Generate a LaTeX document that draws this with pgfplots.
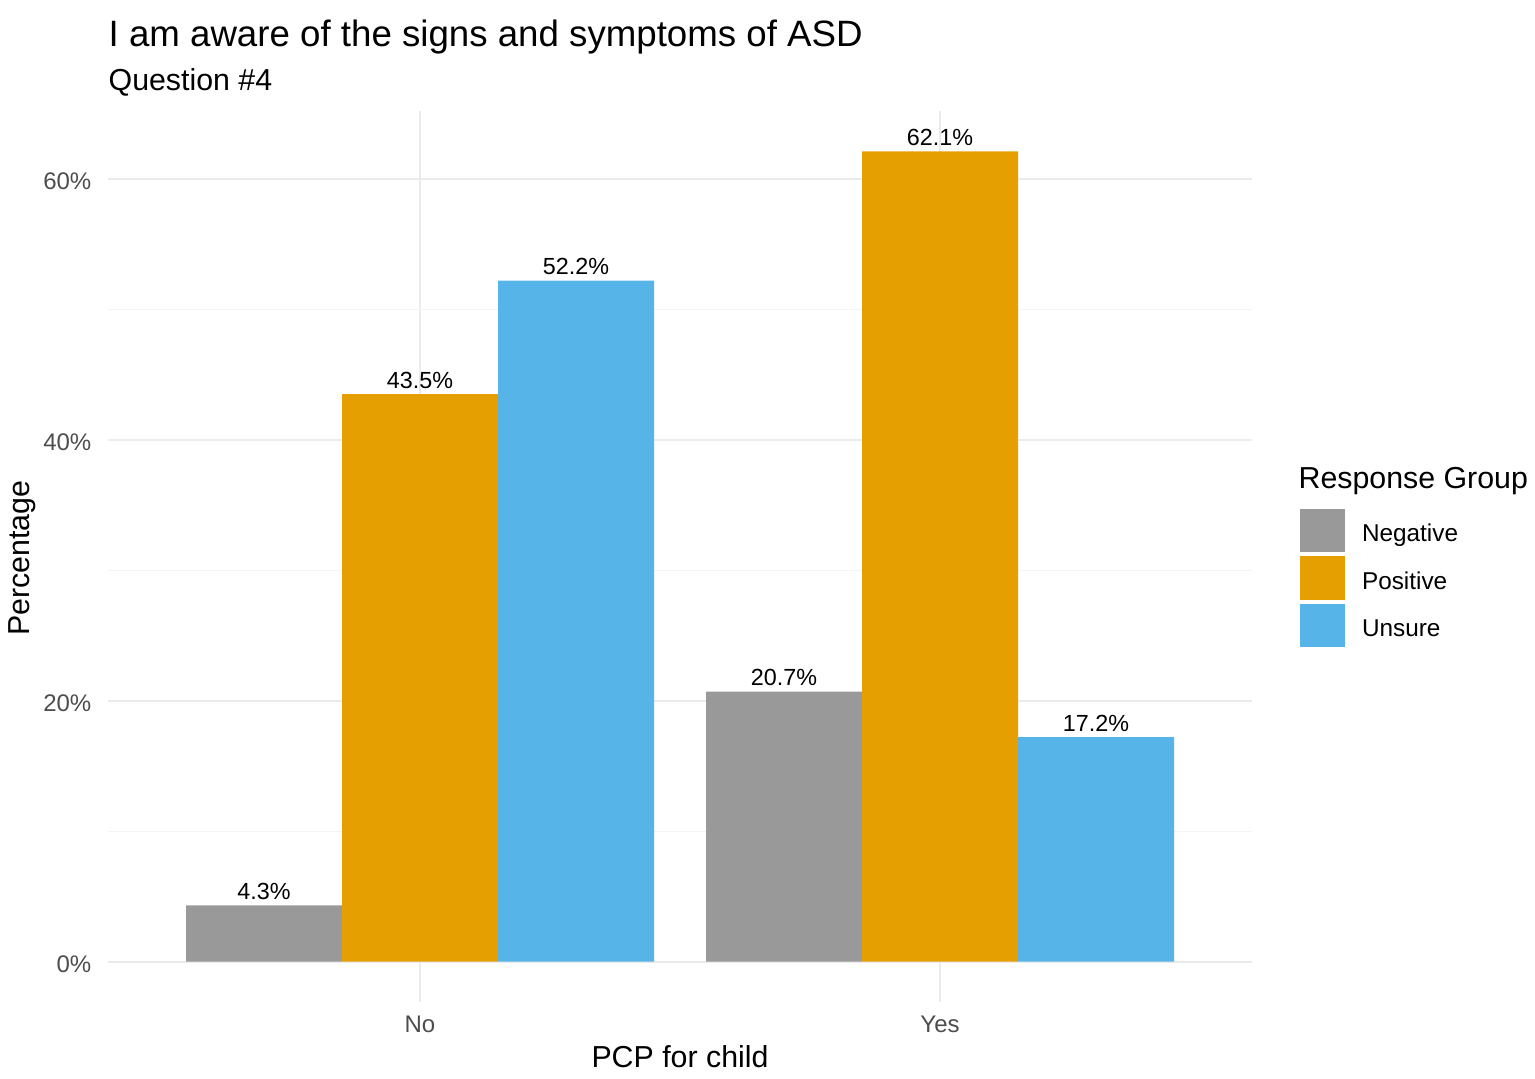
\documentclass[border=0pt]{standalone}
\usepackage{pgfplots}
\pgfplotsset{compat=1.18}
\usepackage{fontspec}
\setmainfont{Liberation Sans}
\definecolor{cneg}{HTML}{999999}
\definecolor{cpos}{HTML}{E69F00}
\definecolor{cuns}{HTML}{56B4E9}
\definecolor{gridmaj}{HTML}{EBEBEB}
\definecolor{gridmin}{HTML}{F4F4F4}
\definecolor{ticktext}{HTML}{4D4D4D}
\begin{document}
\begin{tikzpicture}
\begin{axis}[
  scale only axis,
  width=343.2pt, height=267.3pt,
  xmin=-0.6, xmax=1.6,
  ymin=-3.1, ymax=65.2,
  axis line style={draw=none},
  tick style={draw=none},
  xtick={0,1}, xticklabels={No,Yes},
  ytick={0,20,40,60},
  minor ytick={10,30,50},
  yticklabel={\pgfmathprintnumber{\tick}\%},
  /pgf/number format/assume math mode=true,
  ymajorgrids, xmajorgrids, yminorgrids,
  major grid style={draw=gridmaj, line width=0.6pt},
  minor grid style={draw=gridmin, line width=0.35pt},
  ticklabel style={font=\fontsize{7.2pt}{8pt}\selectfont, text=ticktext},
  yticklabel style={anchor=east, inner sep=0pt, xshift=-4.8pt, yshift=-0.8pt},
  xticklabel style={anchor=base, inner sep=0pt, yshift=-4.8pt},
  ybar, bar width=0.3,
  nodes near coords={\pgfmathprintnumber[fixed,fixed zerofill,precision=1]{\pgfplotspointmeta}\%},
  every node near coord/.append style={font=\fontsize{7pt}{8pt}\selectfont, text=black, inner sep=1.5pt, anchor=south},
  legend style={at={(rel axis cs:1.042,0.5533)}, anchor=north west, draw=none, fill=none,
    inner sep=0pt, outer sep=0pt, row sep=1.2pt,
    nodes={inner sep=0pt, font=\fontsize{7.3pt}{8pt}\selectfont, text=black},
    /tikz/every odd column/.style={column sep=5.1pt}},
  legend cell align=left,
  legend image code/.code={\fill[#1] (0pt,-5pt) rectangle (13.5pt,8pt);},
  clip=false,
]
\addplot[fill=cneg, draw=none, bar shift=-0.3] coordinates {(0,4.3) (1,20.7)};
\addplot[fill=cpos, draw=none, bar shift=0] coordinates {(0,43.5) (1,62.1)};
\addplot[fill=cuns, draw=none, bar shift=0.3] coordinates {(0,52.2) (1,17.2)};
\legend{Negative,Positive,Unsure}
\end{axis}
\node[anchor=base west, inner sep=0pt, font=\fontsize{11pt}{13pt}\selectfont] at (0pt,286.5pt) {I am aware of the signs and symptoms of ASD};
\node[anchor=base west, inner sep=0pt, font=\fontsize{9.1pt}{11pt}\selectfont] at (0pt,273.3pt) {Question \#4};
\node[anchor=base, inner sep=0pt, rotate=90, font=\fontsize{9.1pt}{11pt}\selectfont] at (-23.4pt,133.2pt) {Percentage};
\node[anchor=base, inner sep=0pt, font=\fontsize{9.1pt}{11pt}\selectfont] at (171.6pt,-19.8pt) {PCP for child};
\node[anchor=base west, inner sep=0pt, font=\fontsize{9.1pt}{11pt}\selectfont] at (357pt,153.9pt) {Response Group};
\pgfresetboundingbox
\path (-32.4pt,-23.1pt) rectangle (428.1pt,300.6pt);
\end{tikzpicture}
\end{document}
